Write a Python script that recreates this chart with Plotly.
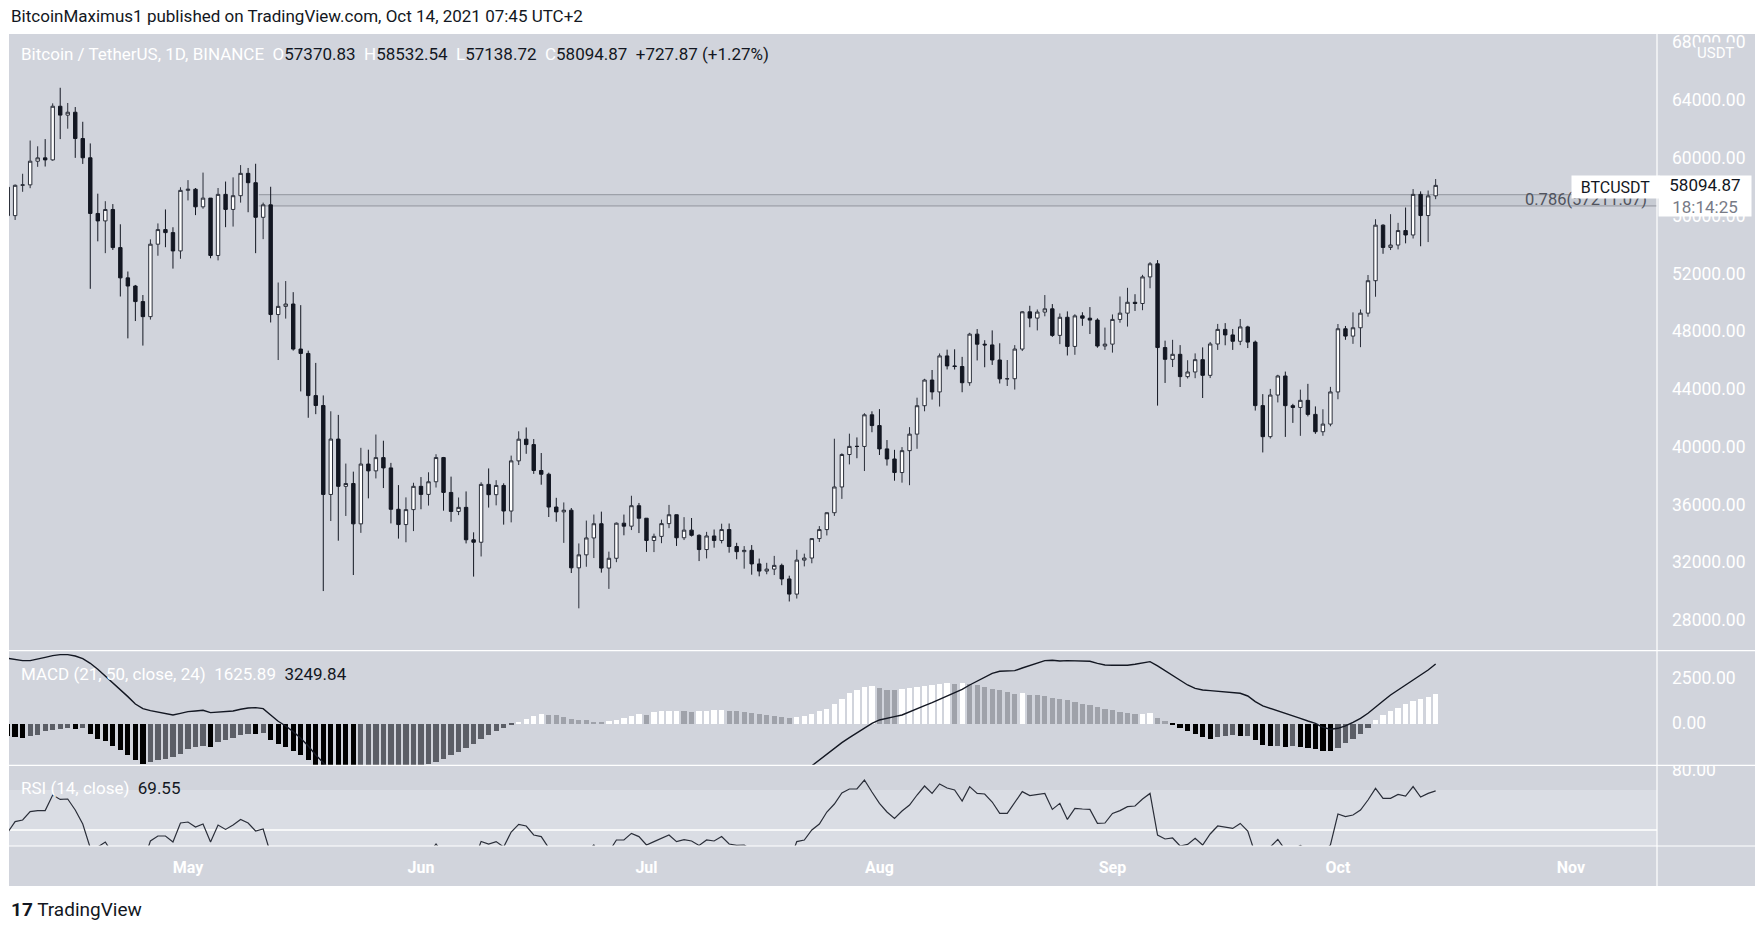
import pandas as pd
import plotly.graph_objects as go
from plotly.subplots import make_subplots

# ---------------- data ----------------
dates = pd.date_range("2021-04-07", periods=191, freq="D")

opens = [
    57970, 56000, 58100, 58130, 59770, 60000, 59860, 63575, 62960, 63160,
    61340, 60006, 56150, 55633, 56425, 53787, 51690, 51125, 50047, 49004,
    54021, 55033, 54824, 53555, 57750, 57828, 56610, 57213, 53241, 57473,
    56428, 57380, 58928, 58280, 55883, 56750, 49150, 49716, 49880, 46760,
    46456, 43538, 42849, 36690, 40526, 37253, 37449, 34655, 38796, 38324,
    39241, 38529, 35663, 34605, 35641, 37253, 36694, 37569, 39246, 36829,
    35513, 35796, 33552, 33380, 37388, 36675, 37313, 35543, 39016, 40516,
    40144, 38349, 38092, 35819, 35483, 35600, 31608, 32509, 33678, 34663,
    31594, 32271, 34700, 34494, 35911, 35045, 33504, 33786, 34669, 35287,
    33690, 34220, 33862, 32875, 33815, 33502, 34259, 33086, 32729, 32820,
    31880, 31384, 31520, 31778, 30839, 29790, 32144, 32287, 33634, 34258,
    35425, 37208, 39456, 40019, 40016, 42206, 41461, 39845, 39147, 38208,
    39723, 40867, 42836, 44614, 43792, 46284, 45594, 45551, 44428, 47793,
    47096, 47047, 46004, 44695, 44705, 46760, 49339, 48905, 49321, 49546,
    47706, 48960, 46942, 49058, 48897, 48767, 46970, 47100, 48811, 49246,
    49999, 49915, 51756, 52663, 46863, 46048, 46395, 44850, 45173, 46026,
    44940, 47111, 48121, 47737, 47299, 48292, 47241, 42843, 40693, 43574,
    44895, 42839, 42716, 43208, 42235, 41034, 41564, 43790, 48165, 47657,
    48233, 49245, 51493, 55339, 53797, 53963, 54966, 54659, 57471, 56005,
    57370.83,
]
highs = [
    58650, 58160, 58900, 61200, 60800, 61300, 63775, 64854, 63800, 63520,
    62500, 61000, 57520, 57000, 56800, 55400, 52130, 51200, 50500, 54356,
    55460, 56428, 55195, 57963, 58458, 57911, 58981, 57214, 57911, 58360,
    58650, 59500, 59300, 59592, 56900, 58000, 51367, 51469, 50700, 49800,
    46650, 45800, 43547, 42451, 42200, 38829, 38270, 39920, 39791, 40841,
    40411, 38877, 37338, 36488, 37499, 37894, 38225, 39476, 39289, 37925,
    36480, 36900, 34068, 37534, 38491, 37680, 37463, 39380, 41064, 41330,
    40527, 39559, 38200, 36457, 36137, 35750, 33298, 34881, 35298, 35500,
    32730, 34749, 35297, 36600, 36100, 35057, 33977, 34945, 35967, 35293,
    35118, 35059, 33929, 34100, 34262, 34666, 34678, 33341, 33114, 33185,
    32249, 31955, 32435, 31899, 31063, 32858, 32591, 33650, 34500, 35398,
    40550, 39542, 40900, 40640, 42316, 42448, 42599, 40459, 39780, 39969,
    41350, 43392, 44700, 45310, 46454, 46718, 46743, 46218, 47886, 48144,
    47372, 48053, 47160, 46000, 47033, 49382, 49757, 49500, 50500, 49875,
    49226, 49368, 49170, 49309, 49667, 48888, 48246, 49156, 50400, 51000,
    50558, 51900, 52780, 52920, 47340, 47399, 47033, 45987, 46460, 46876,
    47250, 48500, 48557, 48150, 48843, 48372, 47347, 43639, 44000, 44978,
    45200, 42966, 43950, 44350, 42787, 42590, 44141, 48495, 48359, 49300,
    49500, 51886, 55750, 55400, 56100, 55500, 56561, 57839, 57680, 57737,
    58532.54,
]
lows = [
    55470, 55700, 57650, 57900, 59380, 59400, 59800, 61301, 62020, 60000,
    59580, 50931, 54220, 53400, 53620, 50400, 47500, 48700, 47000, 48800,
    53222, 53813, 52330, 53013, 57052, 56035, 56478, 53046, 52900, 55200,
    55241, 56900, 56235, 53400, 54370, 48600, 46000, 48869, 46650, 43825,
    42001, 42250, 30000, 34850, 33488, 35200, 31111, 34031, 36419, 37800,
    37134, 34684, 33632, 33379, 34153, 35666, 35920, 37170, 35567, 34800,
    35258, 33300, 31000, 32396, 35782, 35936, 34600, 34757, 38730, 39506,
    38116, 37365, 35129, 34803, 33336, 31251, 28805, 31683, 32286, 31275,
    30151, 32000, 33862, 34225, 34017, 32711, 32699, 33316, 34357, 33125,
    33532, 33777, 32077, 32261, 33004, 33306, 32658, 32202, 31550, 31133,
    31020, 31164, 31108, 30407, 29278, 29482, 31708, 31925, 33401, 33851,
    35205, 36383, 38772, 39200, 38313, 41000, 39422, 38690, 37642, 37508,
    37332, 39853, 42450, 43261, 42779, 45347, 45341, 43770, 44218, 45971,
    45500, 45660, 44376, 44203, 43955, 46622, 48272, 48050, 49028, 47600,
    47100, 46315, 46361, 48370, 47800, 46853, 46700, 46512, 48584, 48316,
    49400, 49450, 50969, 42843, 44412, 45514, 44132, 44722, 44742, 43370,
    44750, 46700, 47021, 46700, 47033, 46829, 42500, 39600, 40565, 43063,
    40675, 41646, 40750, 42098, 40888, 40753, 41410, 43283, 47400, 47120,
    46891, 49000, 50382, 53357, 53617, 53661, 54080, 54415, 53879, 54167,
    57138.72,
]
closes = [
    56000, 58100, 58130, 59770, 60000, 59860, 63575, 62960, 63160, 61340,
    60006, 56150, 55633, 56425, 53787, 51690, 51125, 50047, 49004, 54021,
    55033, 54824, 53555, 57750, 57828, 56610, 57213, 53241, 57473, 56428,
    57380, 58928, 58280, 55883, 56750, 49150, 49716, 49880, 46760, 46456,
    43538, 42849, 36690, 40526, 37253, 37449, 34655, 38796, 38324, 39241,
    38529, 35663, 34605, 35641, 37253, 36694, 37569, 39246, 36829, 35513,
    35796, 33552, 33380, 37388, 36675, 37313, 35543, 39016, 40516, 40144,
    38349, 38092, 35819, 35483, 35600, 31608, 32509, 33678, 34663, 31594,
    32271, 34700, 34494, 35911, 35045, 33504, 33786, 34669, 35287, 33690,
    34220, 33862, 32875, 33815, 33502, 34259, 33086, 32729, 32820, 31880,
    31384, 31520, 31778, 30839, 29790, 32144, 32287, 33634, 34258, 35425,
    37208, 39456, 40019, 40016, 42206, 41461, 39845, 39147, 38208, 39723,
    40867, 42836, 44614, 43792, 46284, 45594, 45551, 44428, 47793, 47096,
    47047, 46004, 44695, 44705, 46760, 49339, 48905, 49321, 49546, 47706,
    48960, 46942, 49058, 48897, 48767, 46970, 47100, 48811, 49246, 49999,
    49915, 51756, 52663, 46863, 46048, 46395, 44850, 45173, 46026, 44940,
    47111, 48121, 47737, 47299, 48292, 47241, 42843, 40693, 43574, 44895,
    42839, 42716, 43208, 42235, 41034, 41564, 43790, 48165, 47657, 48233,
    49245, 51493, 55339, 53797, 53963, 54966, 54659, 57471, 56005, 57367,
    58094.87,
]

macd_hist = [
    -700, -740, -770, -700, -640, -400, -365, -275, -220, -270,
    -230, -585, -820, -950, -1240, -1460, -1735, -1975, -2190, -2100,
    -1975, -1920, -1830, -1680, -1370, -1280, -1240, -1260, -1005, -880,
    -770, -640, -550, -585, -510, -880, -1100, -1280, -1500, -1740,
    -1975, -2300, -2600, -2900, -3100, -3250, -3350, -3300, -3250, -3200,
    -3100, -3000, -2900, -2800, -2650, -2450, -2229, -2100, -1918, -1736,
    -1553, -1315, -1096, -859, -640, -402, -219, -91, 91, 274,
    400, 512, 495, 457, 365, 256, 219, 183, 110, 73,
    128, 219, 329, 438, 512, 475, 620, 676, 694, 712,
    676, 658, 694, 712, 730, 750, 712, 676, 620, 566,
    512, 475, 420, 384, 329, 365, 438, 512, 676, 822,
    1060, 1370, 1680, 1864, 2010, 2046, 1973, 1864, 1827, 1880,
    1955, 2010, 2065, 2138, 2192, 2229, 2192, 2229, 2174, 2100,
    2010, 1900, 1827, 1735, 1644, 1662, 1590, 1585, 1535, 1425,
    1352, 1280, 1205, 1096, 1005, 913, 822, 730, 658, 585,
    512, 548, 560, 300, 150, -90, -220, -400, -585, -730,
    -822, -730, -694, -620, -700, -660, -900, -1150, -1250, -1200,
    -1260, -1240, -1300, -1330, -1400, -1500, -1516, -1315, -1060, -822,
    -548, -219, 219, 457, 694, 877, 1060, 1242, 1370, 1462,
    1625.89,
]
macd_line = [
    3563, 3508, 3435, 3435, 3508, 3617, 3709, 3764, 3764, 3690,
    3544, 3289, 2960, 2594, 2229, 1827, 1462, 1060, 804, 694,
    621, 548, 457, 548, 639, 676, 712, 585, 621, 639,
    676, 767, 840, 859, 804, 457, 110, -146, -457, -822,
    -1242, -1736, -2192, -2650, -3000, -3300, -3650, -3850, -4000, -4100,
    -4200, -4350, -4500, -4600, -4650, -4700, -4700, -4650, -4650, -4700,
    -4720, -4800, -4850, -4750, -4650, -4550, -4500, -4350, -4150, -3980,
    -3900, -3850, -3900, -3950, -3980, -4150, -4250, -4250, -4200, -4250,
    -4280, -4200, -4100, -3980, -3900, -3900, -3880, -3820, -3730, -3700,
    -3650, -3620, -3620, -3580, -3550, -3480, -3450, -3440, -3420, -3400,
    -3420, -3420, -3400, -3350, -3200, -2950, -2650, -2330, -2010, -1700,
    -1370, -1060, -786, -512, -238, 0, 183, 292, 365, 457,
    639, 822, 968, 1133, 1315, 1498, 1680, 1864, 2100, 2320,
    2521, 2740, 2850, 2887, 2887, 3033, 3179, 3325, 3435, 3453,
    3416, 3435, 3416, 3416, 3398, 3289, 3198, 3179, 3179, 3179,
    3234, 3325, 3380, 3143, 2887, 2594, 2339, 2100, 1918, 1827,
    1790, 1754, 1735, 1699, 1644, 1498, 1188, 950, 822, 694,
    548, 402, 274, 128, 0, -219, -329, -274, -146, 55,
    274, 548, 913, 1224, 1553, 1827, 2100, 2412, 2649, 2923,
    3249.84,
]
rsi = [
    48.7, 54.2, 55, 59.2, 59.7, 59.7, 67.5, 65.3, 65.5, 60,
    53, 41, 41.5, 44, 38, 37.5, 36.5, 34, 33.5, 44.5,
    47, 47, 44, 53.5, 54, 51.5, 53, 44, 52.5, 50.3,
    52.5, 55.3, 53.5, 49.5, 50.5, 38, 38.5, 38.8, 35.5, 35.3,
    33, 32.5, 26, 33.5, 31, 31.3, 29, 36, 35.5, 37,
    36.3, 33, 32, 34, 37, 36.3, 38, 43, 38, 36.5,
    37, 34, 34, 44.3, 43, 44.2, 41.5, 49, 52.8, 52,
    47.5, 46.7, 41, 40.5, 40.8, 34, 36, 39, 42.5, 37,
    39, 45, 45, 48.3, 46.7, 42.5, 44.2, 46, 47.5, 44.2,
    45.2, 44.5, 42.3, 45, 44.5, 46.7, 43, 42.3, 42.5, 40,
    39, 39.5, 40.5, 37, 34, 44.2, 45, 50, 53, 59,
    63, 68.5, 70.5, 70.5, 75, 69, 63.3, 59, 55.8, 59.5,
    62.5, 67.5, 72, 68.3, 73, 71, 70, 64.5, 71.7, 68.3,
    68, 64, 58.3, 58.3, 63.5, 69.2, 67.2, 67.8, 68.3, 60.3,
    63.3, 55.3, 60.8, 60.5, 60.3, 53.3, 53.5, 58.3, 59.7, 61.7,
    62, 65.5, 68.3, 47.5, 45.5, 46, 42, 42.8, 45.8, 42.5,
    48, 52, 51.5, 50.8, 53.3, 49.5, 38, 34.5, 41.5, 45.3,
    40, 40, 42.3, 40, 37.5, 39, 42.5, 58, 56.7, 57.5,
    60, 65, 70.8, 65.8, 65.8, 67.8, 67, 71.7, 66.5, 68.3,
    69.55,
]

price_ticks = [28000, 32000, 36000, 40000, 44000, 48000, 52000, 56000, 60000, 64000, 68000]
macd_ticks = [0, 2500]
rsi_ticks = [80]
month_ticks = ["2021-05-01", "2021-06-01", "2021-07-01", "2021-08-01",
               "2021-09-01", "2021-10-01", "2021-11-01"]
month_labels = ["May", "Jun", "Jul", "Aug", "Sep", "Oct", "Nov"]

fib_text = "0.786(57211.07)"
fib_band = [56670, 57450]
fib_start = "2021-05-10 10:00"
rsi_band = [30, 70]
rsi_mid = 50

header = "BitcoinMaximus1 published on TradingView.com, Oct 14, 2021 07:45 UTC+2"
symbol = "Bitcoin / TetherUS, 1D, BINANCE"
ohlc_vals = ["57370.83", "58532.54", "57138.72", "58094.87"]
change_txt = "+727.87 (+1.27%)"
macd_title = "MACD (21, 50, close, 24)"
macd_vals = ["1625.89", "3249.84"]
rsi_title = "RSI (14, close)"
rsi_val = "69.55"
last_price_txt = "58094.87"
countdown_txt = "18:14:25"

# ---------------- geometry / style ----------------
W, H = 1764, 927
PL, PR, PT, PB = 9, 1657, 34, 846
SEP1, SEP2 = 650.7, 765.3
CHART_R, CHART_B = 1755, 886

BG = "#d1d4dc"
BAND = "#dadde4"
DARK = "#131722"
FONT = "Roboto, Arial, sans-serif"


def px(x):
    return (x - PL) / (PR - PL)


def py(y):
    return (PB - y) / (PB - PT)


t0 = pd.Timestamp("2021-04-07") + pd.Timedelta(days=0.186)
t1 = pd.Timestamp("2021-04-07") + pd.Timedelta(days=219.45)

# histogram colours follow TradingView rules (rising / falling)
hist_colors = []
for i, v in enumerate(macd_hist):
    prev = macd_hist[i - 1] if i > 0 else v + 1
    if v >= 0:
        hist_colors.append("#ffffff" if v > prev else "#9fa2aa")
    else:
        hist_colors.append("#5b5e66" if v > prev else "#000000")

fig = make_subplots(rows=3, cols=1, shared_xaxes=True, vertical_spacing=0)

fig.add_trace(go.Candlestick(
    x=dates, open=opens, high=highs, low=lows, close=closes,
    increasing=dict(line=dict(color="#2a2e39", width=1), fillcolor="#ffffff"),
    decreasing=dict(line=dict(color=DARK, width=1), fillcolor=DARK),
    whiskerwidth=0, hoverinfo="skip", showlegend=False), row=1, col=1)

fig.add_trace(go.Bar(
    x=dates, y=macd_hist, marker=dict(color=hist_colors, line=dict(width=0)),
    width=0.7 * 86400000, hoverinfo="skip", showlegend=False), row=2, col=1)
fig.add_trace(go.Scatter(
    x=dates, y=macd_line, mode="lines", line=dict(color=DARK, width=1.4),
    hoverinfo="skip", showlegend=False), row=2, col=1)

fig.add_trace(go.Scatter(
    x=dates, y=rsi, mode="lines", line=dict(color="#2a2e39", width=1.2),
    hoverinfo="skip", showlegend=False), row=3, col=1)

axis_font = dict(family=FONT, size=17.5, color="#ffffff")

fig.update_layout(
    width=W, height=H,
    margin=dict(l=PL, r=W - PR, t=PT, b=H - PB),
    paper_bgcolor="#ffffff", plot_bgcolor="rgba(0,0,0,0)",
    boxgap=0.35, bargap=0, showlegend=False,
    font=dict(family=FONT, color=DARK),
)

for i in (1, 2, 3):
    fig.update_xaxes(row=i, col=1, type="date", range=[t0, t1], showgrid=False,
                     zeroline=False, showline=False, rangeslider_visible=False,
                     showticklabels=(i == 3), ticks="")
fig.update_xaxes(row=3, col=1, tickvals=month_ticks,
                 ticktext=["<b>%s</b>" % m for m in month_labels],
                 tickfont=dict(family=FONT, size=16, color="#ffffff"),
                 ticklabelstandoff=10)

fig.update_yaxes(row=1, col=1, domain=[py(SEP1), 1.0], range=[25870, 68578],
                 side="right", tickvals=price_ticks,
                 ticktext=["%.2f" % v for v in price_ticks])
fig.update_yaxes(row=2, col=1, domain=[py(SEP2), py(SEP1)], range=[-2302, 3980],
                 side="right", tickvals=macd_ticks,
                 ticktext=["%.2f" % v for v in macd_ticks])
fig.update_yaxes(row=3, col=1, domain=[0.0, py(SEP2)], range=[42, 82.35],
                 side="right", tickvals=rsi_ticks,
                 ticktext=["%.2f" % v for v in rsi_ticks])
fig.update_yaxes(showgrid=False, zeroline=False, showline=False, ticks="",
                 tickfont=axis_font, ticklabelstandoff=14)

shapes = []
# chart background (covers plot + axis strips)
shapes.append(dict(type="rect", xref="paper", yref="paper", layer="below",
                   x0=px(PL), x1=px(CHART_R), y0=py(CHART_B), y1=py(PT),
                   fillcolor=BG, line=dict(width=0)))
# RSI band
shapes.append(dict(type="rect", xref="x3", yref="y3", layer="below",
                   x0=t0, x1=t1, y0=max(rsi_band[0], 42), y1=rsi_band[1],
                   fillcolor=BAND, line=dict(width=0)))
shapes.append(dict(type="line", xref="x3", yref="y3", layer="below",
                   x0=t0, x1=t1, y0=rsi_mid, y1=rsi_mid,
                   line=dict(color="#ffffff", width=1.5)))
# fib band
shapes.append(dict(type="rect", xref="x", yref="y", layer="below",
                   x0=fib_start, x1=t1, y0=fib_band[0], y1=fib_band[1],
                   fillcolor="rgba(120,123,134,0.10)", line=dict(width=0)))
for lvl in fib_band:
    shapes.append(dict(type="line", xref="x", yref="y", layer="below",
                       x0=fib_start, x1=t1, y0=lvl, y1=lvl,
                       line=dict(color="#92959e", width=1)))
# hide top of the clipped "80.00" label
shapes.append(dict(type="rect", xref="paper", yref="paper", layer="above",
                   x0=px(PR + 1), x1=px(CHART_R), y0=py(SEP2), y1=py(SEP2 - 14),
                   fillcolor=BG, line=dict(width=0)))
# separators
for yy in (SEP1, SEP2, PB):
    shapes.append(dict(type="line", xref="paper", yref="paper", layer="above",
                       x0=px(PL), x1=px(CHART_R), y0=py(yy), y1=py(yy),
                       line=dict(color="#ffffff", width=1.2)))
shapes.append(dict(type="line", xref="paper", yref="paper", layer="above",
                   x0=px(PR), x1=px(PR), y0=py(CHART_B), y1=py(PT),
                   line=dict(color="#ffffff", width=1.2)))
fig.update_layout(shapes=shapes)

W_ = "#ffffff"


def span(txt, col):
    return '<span style="color:%s">%s</span>' % (col, txt)


SP = "&nbsp;&nbsp;"
legend_txt = (span(symbol + "&nbsp;&nbsp;O", W_) + span(ohlc_vals[0], DARK) + SP +
              span("H", W_) + span(ohlc_vals[1], DARK) + SP +
              span("L", W_) + span(ohlc_vals[2], DARK) + SP +
              span("C", W_) + span(ohlc_vals[3], DARK) + SP +
              span(change_txt, DARK))
macd_txt = span(macd_title + SP + macd_vals[0], W_) + SP + span(macd_vals[1], DARK)
rsi_txt = span(rsi_title + SP, W_) + span(rsi_val, DARK)

ann = []
ann.append(dict(text=header, x=px(9), y=py(16), xanchor="left", yanchor="middle",
                font=dict(family=FONT, size=17, color=DARK)))
ann.append(dict(text=legend_txt, x=px(19), y=py(54), xanchor="left", yanchor="middle",
                font=dict(family=FONT, size=17, color=DARK)))
ann.append(dict(text=macd_txt, x=px(19), y=py(674), xanchor="left", yanchor="middle",
                font=dict(family=FONT, size=17, color=DARK)))
ann.append(dict(text=rsi_txt, x=px(19), y=py(788), xanchor="left", yanchor="middle",
                font=dict(family=FONT, size=17, color=DARK)))
ann.append(dict(text="USDT", x=px(1716), y=py(53), xanchor="center", yanchor="middle",
                font=dict(family=FONT, size=15, color="#ffffff"), bgcolor=BG,
                borderpad=1))
ann.append(dict(text=fib_text, x=px(1523), y=py(199), xanchor="left", yanchor="middle",
                font=dict(family=FONT, size=16.5, color="#50535e")))
ann.append(dict(text="BTCUSDT", x=px(1571), y=py(175), xanchor="left", yanchor="top",
                width=81, height=16, borderpad=3, align="center", valign="middle",
                bgcolor="#ffffff", font=dict(family=FONT, size=16, color=DARK)))
ann.append(dict(text=span(last_price_txt, DARK) + "<br>" + span(countdown_txt, "#787b86"),
                x=px(1658), y=py(175), xanchor="left", yanchor="top",
                width=88, height=36, borderpad=2, align="center", valign="middle",
                bgcolor="#ffffff", font=dict(family=FONT, size=17, color=DARK)))
ann.append(dict(text="<b>17</b> TradingView", x=px(9), y=py(910), xanchor="left",
                yanchor="middle", font=dict(family=FONT, size=19, color=DARK)))
for a in ann:
    a.update(xref="paper", yref="paper", showarrow=False)
fig.update_layout(annotations=ann)

fig.write_html("out.html")
